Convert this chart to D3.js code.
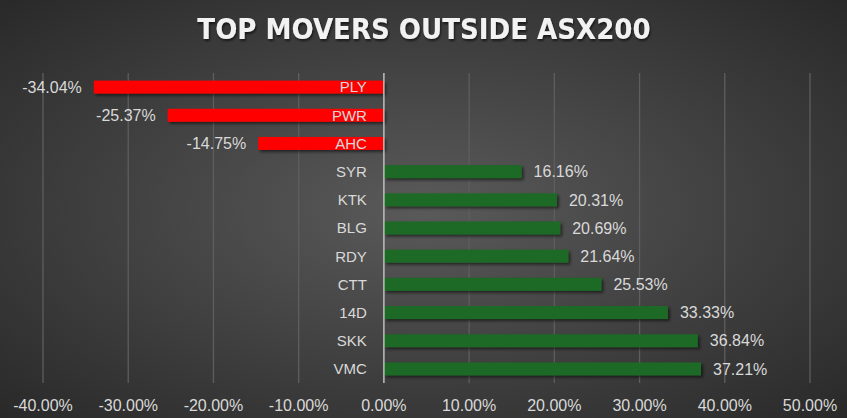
<!DOCTYPE html>
<html>
<head>
<meta charset="utf-8">
<script src="https://cdn.jsdelivr.net/npm/d3@7"></script>
<style>
  body { margin: 0; background: #333; }
  svg { display: block; }
</style>
</head>
<body>
<div id="chart"></div>
<script>
// chart data
var tickers = ["PLY", "PWR", "AHC", "SYR", "KTK", "BLG", "RDY", "CTT", "14D", "SKK", "VMC"]
var changes = [-34.04, -25.37, -14.75, 16.16, 20.31, 20.69, 21.64, 25.53, 33.33, 36.84, 37.21]
var xTicks = [-40, -30, -20, -10, 0, 10, 20, 30, 40, 50]
var title = "TOP MOVERS OUTSIDE ASX200"

var width = 847, height = 418
var margin = { top: 73, right: 37, bottom: 35, left: 43 }

var svg = d3.select("#chart").append("svg")
    .attr("width", width)
    .attr("height", height)

var defs = svg.append("defs")
var grad = defs.append("radialGradient")
    .attr("id", "bg")
    .attr("cx", "50%").attr("cy", "50%").attr("r", "75%")
grad.append("stop").attr("offset", "0%").attr("stop-color", "#5a5a5a")
grad.append("stop").attr("offset", "100%").attr("stop-color", "#262626")

var shadow = defs.append("filter").attr("id", "shadow")
    .attr("x", "-10%").attr("y", "-50%").attr("width", "130%").attr("height", "250%")
shadow.append("feDropShadow")
    .attr("dx", 2).attr("dy", 2).attr("stdDeviation", 1.5)
    .attr("flood-color", "#000").attr("flood-opacity", 0.55)

var tshadow = defs.append("filter").attr("id", "tshadow")
tshadow.append("feDropShadow")
    .attr("dx", 1).attr("dy", 2).attr("stdDeviation", 1.2)
    .attr("flood-color", "#000").attr("flood-opacity", 0.6)

svg.append("rect")
    .attr("width", width).attr("height", height)
    .attr("fill", "url(#bg)")

var x = d3.scaleLinear()
    .domain([-40, 50])
    .range([margin.left, width - margin.right])

var y = d3.scaleBand()
    .domain(tickers)
    .range([margin.top, height - margin.bottom])
    .paddingInner(0.54)
    .paddingOuter(0.27)

// gridlines
svg.append("g").selectAll("line")
    .data(xTicks.filter(function(d){ return d != 0 }))
    .enter().append("line")
    .attr("x1", function(d){ return x(d) })
    .attr("x2", function(d){ return x(d) })
    .attr("y1", margin.top)
    .attr("y2", height - margin.bottom)
    .attr("stroke", "#5e5e5e")
    .attr("stroke-width", 1.3)

// bars
svg.append("g").selectAll("rect")
    .data(changes)
    .enter().append("rect")
    .attr("x", function(d){ return x(Math.min(0, d)) })
    .attr("width", function(d){ return Math.abs(x(d) - x(0)) })
    .attr("y", function(d, i){ return y(tickers[i]) })
    .attr("height", y.bandwidth())
    .attr("fill", function(d){ return d < 0 ? "#ff0000" : "#1c6b27" })
    .attr("filter", "url(#shadow)")

// zero line
svg.append("line")
    .attr("x1", x(0)).attr("x2", x(0))
    .attr("y1", margin.top).attr("y2", height - margin.bottom)
    .attr("stroke", "#bfbfbf")
    .attr("stroke-width", 1.5)

var labelColor = "#d9d9d9"

// category labels
svg.append("g").selectAll("text")
    .data(tickers)
    .enter().append("text")
    .attr("x", x(0) - 17)
    .attr("y", function(d){ return y(d) + y.bandwidth() / 2 })
    .attr("dy", "0.36em")
    .attr("text-anchor", "end")
    .attr("font-family", "Liberation Sans, Arial, sans-serif")
    .attr("font-size", 15)
    .attr("fill", labelColor)
    .text(function(d){ return d })

// value labels
svg.append("g").selectAll("text")
    .data(changes)
    .enter().append("text")
    .attr("x", function(d){ return d < 0 ? x(d) - 12 : x(d) + 12 })
    .attr("y", function(d, i){ return y(tickers[i]) + y.bandwidth() / 2 })
    .attr("dy", "0.36em")
    .attr("text-anchor", function(d){ return d < 0 ? "end" : "start" })
    .attr("font-family", "Liberation Sans, Arial, sans-serif")
    .attr("font-size", 16)
    .attr("fill", labelColor)
    .text(function(d){ return d.toFixed(2) + "%" })

// x axis labels
svg.append("g").selectAll("text")
    .data(xTicks)
    .enter().append("text")
    .attr("x", function(d){ return x(d) })
    .attr("y", 411)
    .attr("text-anchor", "middle")
    .attr("font-family", "Liberation Sans, Arial, sans-serif")
    .attr("font-size", 16)
    .attr("fill", labelColor)
    .text(function(d){ return d.toFixed(2) + "%" })

// title
svg.append("text")
    .attr("x", 424)
    .attr("y", 39)
    .attr("text-anchor", "middle")
    .attr("font-family", "DejaVu Sans Condensed, sans-serif")
    .attr("font-stretch", "condensed")
    .attr("font-weight", "bold")
    .attr("font-size", 29)
    .attr("fill", "#f2f2f2")
    .attr("filter", "url(#tshadow)")
    .text(title)
</script>
</body>
</html>
